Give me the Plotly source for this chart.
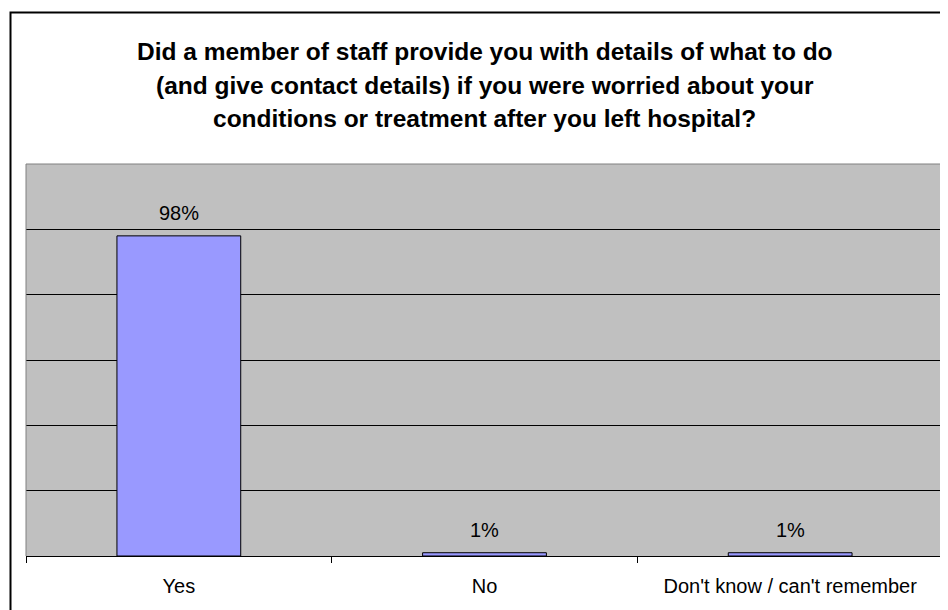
import plotly.graph_objects as go

categories = ["Yes", "No", "Don't know / can't remember"]
values = [0.98, 0.01, 0.01]
value_labels = ["98%", "1%", "1%"]
title_lines = [
    "Did a member of staff provide you with details of what to do",
    "(and give contact details) if you were worried about your",
    "conditions or treatment after you left hospital?",
]

# the page body has an 8px margin; figure coordinates are page - 8
OFF = 8
W, H = 940, 610
L, R, T, B = 26 - OFF, 5, 164 - OFF, 62
pw, ph = W - L - R, H - T - B
FONT = "Liberation Sans, Arial"

fig = go.Figure()
fig.add_trace(go.Bar(
    x=categories, y=values,
    marker=dict(color="#9999FF", line=dict(color="#000000", width=1)),
    hoverinfo="skip",
))

for c, v, lab in zip(categories, values, value_labels):
    fig.add_annotation(x=c, y=v, text=lab, showarrow=False,
                       yanchor="middle", yshift=23,
                       font=dict(family=FONT, size=20, color="#000000"))

# title lines (page y of each line centre)
title_y = [51.5, 85, 118.5]
for line, yp in zip(title_lines, title_y):
    fig.add_annotation(xref="paper", yref="paper", x=0.5,
                       y=(H - B - (yp - OFF)) / ph,
                       text="<b>" + line + "</b>", showarrow=False,
                       xanchor="center", yanchor="middle",
                       font=dict(family=FONT, size=24.5, color="#000000"))

# outer chart border
fig.add_shape(type="rect", xref="paper", yref="paper",
              x0=(10.5 - OFF - L) / pw, x1=1.1, y0=-0.5,
              y1=(H - B - (12.5 - OFF)) / ph,
              line=dict(color="#000000", width=2), fillcolor="rgba(0,0,0,0)", layer="above")
# plot area border (gray top/left/right)
fig.add_shape(type="path", xref="paper", yref="paper",
              path="M0,0 L0,1 L1,1 L1,0",
              line=dict(color="#808080", width=1), layer="above")

fig.update_layout(
    width=W, height=H,
    margin=dict(l=L, r=R, t=T, b=B),
    paper_bgcolor="#FFFFFF",
    plot_bgcolor="#C0C0C0",
    bargap=0.595,
    showlegend=False,
    font=dict(family=FONT, size=20, color="#000000"),
    xaxis=dict(
        type="category", range=[-0.5, 2.5],
        showline=True, linecolor="#000000", linewidth=1,
        ticks="outside", tickson="boundaries", ticklen=6,
        tickcolor="#000000", tickwidth=1,
        ticklabelstandoff=12,
        showgrid=False,
        tickfont=dict(family=FONT, size=20, color="#000000"),
    ),
    yaxis=dict(
        range=[0, 1.2], tick0=0, dtick=0.2,
        showticklabels=False, ticks="",
        showgrid=True, gridcolor="#000000", gridwidth=1,
        zeroline=False, showline=False,
    ),
)

fig.write_html("out.html")
